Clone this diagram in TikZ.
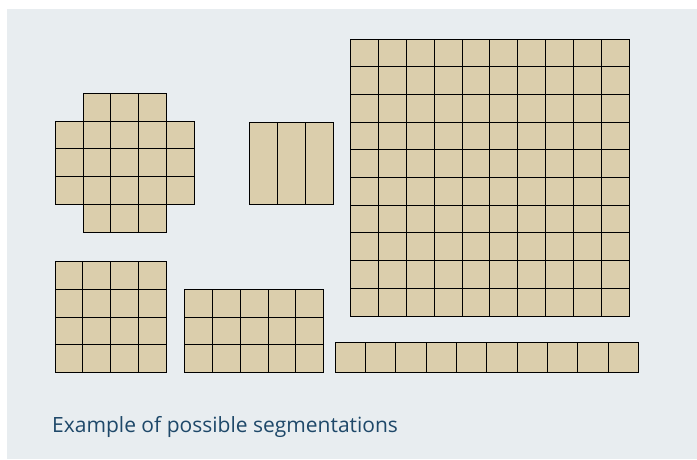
\documentclass[tikz,border=0pt]{standalone}
\usepackage{fontspec}
\setmainfont{Open Sans}
\definecolor{panel}{RGB}{232,237,240}
\definecolor{tan}{RGB}{219,206,172}
\definecolor{cap}{RGB}{30,72,105}
\tikzset{cell/.style={fill=tan,draw=black,line width=1pt}}
\begin{document}
\begin{tikzpicture}[x=1pt,y=-1pt]
\useasboundingbox (0,0) rectangle (697,459);
\fill[white] (0,0) rectangle (697,459);
\fill[panel] (7,9) rectangle (697,459);
% cross
\foreach \i in {0,...,4}{\foreach \j in {0,...,4}{
  \pgfmathparse{((\i==0||\i==4)&&(\j==0||\j==4))?1:0}
  \ifnum\pgfmathresult=0
  \draw[cell] (55.3+\i*27.8,93.3+\j*27.75) rectangle ++(27.8,27.75);
  \fi}}
% stripes
\foreach \i in {0,1,2}{\draw[cell] (249.3+\i*28,122.3) rectangle ++(28,82);}
% big grid
\foreach \i in {0,...,9}{\foreach \j in {0,...,9}{
  \draw[cell] (350.7+\i*27.83,39.3+\j*27.67) rectangle ++(27.83,27.67);}}
% 4x4
\foreach \i in {0,...,3}{\foreach \j in {0,...,3}{
  \draw[cell] (55+\i*27.9,261.7+\j*27.75) rectangle ++(27.9,27.75);}}
% 5x3
\foreach \i in {0,...,4}{\foreach \j in {0,...,2}{
  \draw[cell] (184.3+\i*27.9,289.3+\j*27.8) rectangle ++(27.9,27.8);}}
% strip
\foreach \i in {0,...,9}{\draw[cell] (335.3+\i*30.3,342) rectangle ++(30.3,30.7);}
\node[anchor=base west,inner sep=0pt,text=cap,font=\fontsize{21}{24}\selectfont] (caption) at (52,432.5) {Example of possible segmentations};
\end{tikzpicture}
\end{document}
